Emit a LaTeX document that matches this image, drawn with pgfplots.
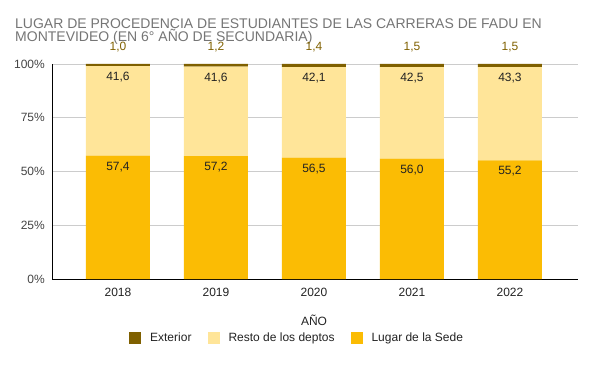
\documentclass[border=0pt]{standalone}
\usepackage{pgfplots}
\pgfplotsset{compat=1.18}
\usepackage{fontspec}
\setmainfont{Liberation Sans}
\definecolor{cExt}{HTML}{7F6000}
\definecolor{cRes}{HTML}{FFE599}
\definecolor{cLug}{HTML}{FBBC04}
\definecolor{cTitle}{HTML}{757575}
\definecolor{cTxt}{HTML}{222222}
\definecolor{cTick}{HTML}{444444}
\definecolor{cGrid}{HTML}{CCCCCC}
\begin{document}
\begin{tikzpicture}[x=1pt,y=1pt]
\path[use as bounding box] (0,0) rectangle (591,364);
\node[anchor=base west, text=cTitle, font=\fontsize{14}{15}\selectfont, inner sep=0pt] at (15,335.5) {LUGAR DE PROCEDENCIA DE ESTUDIANTES DE LAS CARRERAS DE FADU EN};
\node[anchor=base west, text=cTitle, font=\fontsize{14}{15}\selectfont, inner sep=0pt] at (15,322) {MONTEVIDEO (EN 6° AÑO DE SECUNDARIA)};
\node[anchor=base, text=cTxt, font=\fontsize{12}{14}\selectfont, inner sep=0pt] at (314,39) {AÑO};
\pgfplotsset{myax/.style={
  at={(52pt,85pt)}, anchor=south west,
  scale only axis, width=526pt, height=215pt,
  xmin=-0.673, xmax=4.694, ymin=0, ymax=100}}
\begin{axis}[myax,
  ybar stacked, bar width=64pt,
  xtick={0,1,2,3,4}, xticklabels={2018,2019,2020,2021,2022},
  ytick={0,25,50,75,100}, yticklabels={0\%,25\%,50\%,75\%,100\%},
  ymajorgrids, grid style={cGrid, line width=0.8pt},
  axis x line*=bottom, axis y line*=left,
  axis line style={black, line width=0.8pt},
  major tick length=0pt,
  yticklabel style={anchor=east, inner sep=0pt, xshift=-7pt, text=cTick, font=\fontsize{12}{14}\selectfont},
  xticklabel style={anchor=base, inner sep=0pt, yshift=-17pt, text=cTxt, font=\fontsize{12}{14}\selectfont},
  legend columns=3, reverse legend,
  legend style={at={(0.464,-0.274)}, anchor=center, draw=none, fill=none, inner sep=0pt,
    row sep=0pt,
    /tikz/every odd column/.append style={column sep=9pt},
    /tikz/every even column/.append style={column sep=16pt},
    nodes={inner sep=0pt, text=cTxt, font=\fontsize{12}{14}\selectfont}},
  legend image code/.code={\fill[#1] (0pt,-6pt) rectangle (12pt,6pt);},
]
\addplot[fill=cLug, draw=none] coordinates {(0,57.4) (1,57.2) (2,56.5) (3,56.0) (4,55.2)};
\addlegendentry{Lugar de la Sede}
\addplot[fill=cRes, draw=none] coordinates {(0,41.6) (1,41.6) (2,42.1) (3,42.5) (4,43.3)};
\addlegendentry{Resto de los deptos}
\addplot[fill=cExt, draw=none] coordinates {(0,1.0) (1,1.2) (2,1.4) (3,1.5) (4,1.5)};
\addlegendentry{Exterior}
\end{axis}
\begin{axis}[myax, hide axis, point meta=explicit symbolic, clip=false]
\addplot[only marks, mark=none, nodes near coords,
  nodes near coords style={anchor=base, yshift=-14.5pt, text=cTxt, font=\fontsize{12}{14}\selectfont}]
  coordinates {(0,57.4)[57,4] (1,57.2)[57,2] (2,56.5)[56,5] (3,56.0)[56,0] (4,55.2)[55,2]};
\addplot[only marks, mark=none, nodes near coords,
  nodes near coords style={anchor=base, yshift=-14.5pt, text=cTxt, font=\fontsize{12}{14}\selectfont}]
  coordinates {(0,99.0)[41,6] (1,98.8)[41,6] (2,98.6)[42,1] (3,98.5)[42,5] (4,98.5)[43,3]};
\addplot[only marks, mark=none, nodes near coords,
  nodes near coords style={anchor=base, yshift=13.5pt, text=cExt, font=\fontsize{12}{14}\selectfont}]
  coordinates {(0,100)[1,0] (1,100)[1,2] (2,100)[1,4] (3,100)[1,5] (4,100)[1,5]};
\end{axis}
\end{tikzpicture}
\end{document}
